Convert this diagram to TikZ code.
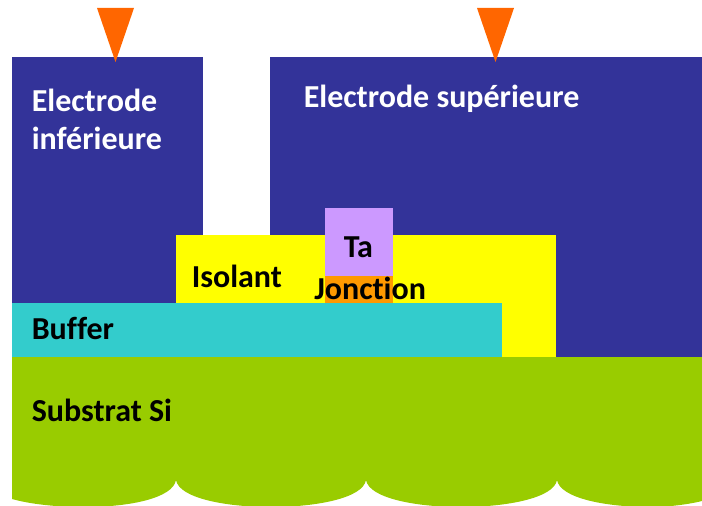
\documentclass[tikz,border=0pt]{standalone}
\usepackage{fontspec}
\setmainfont{Carlito}[Ligatures=NoCommon]
\definecolor{elec}{HTML}{333399}
\definecolor{iso}{HTML}{FFFF00}
\definecolor{buf}{HTML}{33CCCC}
\definecolor{sub}{HTML}{99CC00}
\definecolor{talayer}{HTML}{CC99FF}
\definecolor{junc}{HTML}{FF9900}
\definecolor{tip}{HTML}{FF6600}
\tikzset{
  lbl/.style={font=\bfseries\fontsize{24}{24}\selectfont,inner sep=0pt,anchor=base west,text=black},
  wlbl/.style={lbl,text=white},
}
\begin{document}
\begin{tikzpicture}[x=0.75pt,y=-0.75pt]
\useasboundingbox (0,0) rectangle (702,506);
% substrate
\begin{scope}
\clip (0,0) rectangle (702,506);
\fill[sub] (12,357) -- (702,357) -- (702,501)
  .. controls (690,504) and (670,507) .. (650,507)
  .. controls (605,507) and (560,498) .. (557,480)
  .. controls (554,498) and (507,507) .. (461,507)
  .. controls (415,507) and (369,498) .. (366,480)
  .. controls (363,498) and (317,507) .. (271,507)
  .. controls (225,507) and (179,498) .. (176,480)
  .. controls (173,498) and (130,507) .. (85,507)
  .. controls (55,507) and (30,504) .. (12,499) -- cycle;
\end{scope}
% electrodes
\fill[elec] (12,57) rectangle (203,303);
\fill[elec] (270,57) rectangle (702,357);
% insulator, buffer, stack
\fill[iso] (176,235) rectangle (556,357);
\fill[buf] (12,303) rectangle (502,357);
\fill[talayer] (325,208) rectangle (393,276);
\fill[junc] (325,276) rectangle (393,303);
% probes
\fill[tip] (97,8) -- (134,8) -- (115.5,62) -- cycle;
\fill[tip] (477,8) -- (514,8) -- (495.5,62) -- cycle;
% labels
\node[wlbl] (e1) at (31.5,111.5) {Electrode};
\node[wlbl] (e2) at (31.5,149.5) {inférieure};
\node[wlbl] (e3) at (303.5,107.5) {Electrode supérieure};
\node[lbl] (i) at (191.5,287.5) {Isolant};
\node[lbl] (t) at (343.5,257.5) {Ta};
\node[lbl] (j) at (314,299.5) {Jonction};
\node[lbl] (b) at (31.5,339.5) {Buffer};
\node[lbl] (s) at (31.5,421.5) {Substrat Si};
\end{tikzpicture}
\end{document}
